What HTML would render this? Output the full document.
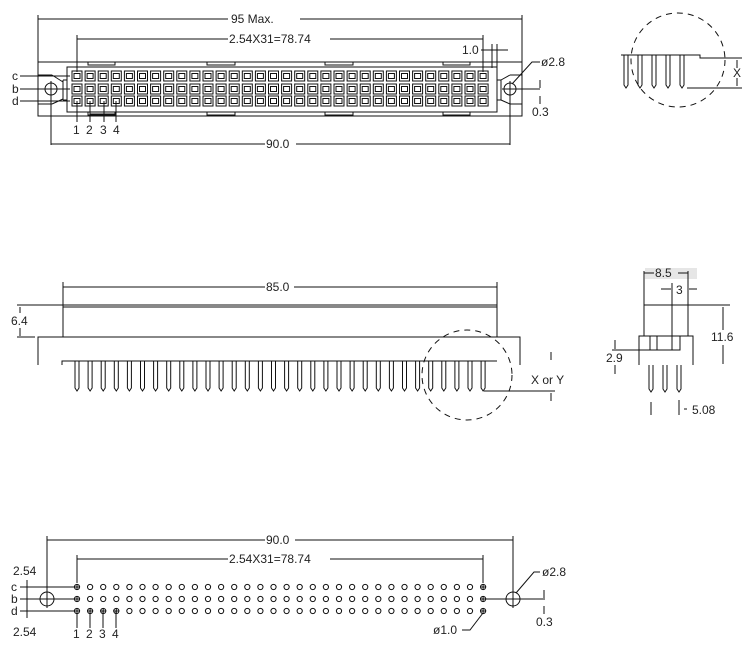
<!DOCTYPE html>
<html><head><style>
body{margin:0;background:#fff;}
svg{display:block;}
text{font-family:"Liberation Sans",sans-serif;font-size:12px;fill:#222;}
</style></head><body>
<svg width="756" height="650" viewBox="0 0 756 650" xmlns="http://www.w3.org/2000/svg" stroke="#111" stroke-width="1" fill="none">
<!-- ===== TOP VIEW ===== -->
<line x1="38" y1="15" x2="38" y2="62"/><line x1="522" y1="15" x2="522" y2="62"/>
<line x1="38" y1="19" x2="228" y2="19"/><line x1="300" y1="19" x2="522" y2="19"/>
<text x="231" y="23" stroke="none">95  Max.</text>
<line x1="77" y1="35" x2="77" y2="72"/><line x1="483" y1="35" x2="483" y2="72"/>
<line x1="77" y1="39" x2="228" y2="39"/><line x1="330" y1="39" x2="483" y2="39"/>
<text x="229" y="43" stroke="none">2.54X31=78.74</text>
<text x="462" y="54" stroke="none">1.0</text>
<line x1="481" y1="50" x2="508" y2="50"/><line x1="492" y1="44" x2="492" y2="68"/><line x1="497" y1="44" x2="497" y2="68"/>
<!-- outer -->
<rect x="38" y="62" width="484" height="54"/>
<rect x="67" y="67" width="430" height="45"/>
<line x1="63" y1="80" x2="63" y2="100"/><line x1="63" y1="80" x2="67" y2="80"/><line x1="63" y1="100" x2="67" y2="100"/>
<line x1="38" y1="75" x2="52" y2="75"/><line x1="52" y1="75" x2="63" y2="82"/>
<line x1="38" y1="104" x2="52" y2="104"/><line x1="52" y1="104" x2="63" y2="99"/>
<line x1="501" y1="80" x2="501" y2="100"/><line x1="497" y1="80" x2="501" y2="80"/><line x1="497" y1="100" x2="501" y2="100"/>
<line x1="501" y1="80" x2="510" y2="75"/><line x1="510" y1="75" x2="522" y2="75"/>
<line x1="501" y1="100" x2="510" y2="104"/><line x1="510" y1="104" x2="522" y2="104"/>
<g stroke-width="1">
<rect x="88" y="62" width="27" height="3"/><rect x="207" y="62" width="28" height="3"/><rect x="325" y="62" width="28" height="3"/><rect x="443" y="62" width="27" height="3"/>
<rect x="88" y="112" width="27" height="3"/><rect x="207" y="112" width="28" height="3"/><rect x="325" y="112" width="28" height="3"/><rect x="443" y="112" width="27" height="3"/>
</g>
<circle cx="51" cy="89" r="6"/><line x1="43" y1="89" x2="59" y2="89"/><line x1="51" y1="81" x2="51" y2="145"/>
<circle cx="510" cy="89" r="6"/><line x1="502" y1="89" x2="540" y2="89"/><line x1="510" y1="81" x2="510" y2="145"/>
<g id="cr">
<!-- contacts generated below -->
</g>
<g stroke-width="1">
<!-- row c y=76, b=89, a=101 -->
</g>
<line x1="20" y1="76" x2="70" y2="76"/><line x1="20" y1="89" x2="70" y2="89"/><line x1="20" y1="101" x2="70" y2="101"/>
<text x="12" y="80" stroke="none">c</text><text x="12" y="93" stroke="none">b</text><text x="12" y="105" stroke="none">d</text>
<line x1="77" y1="101" x2="77" y2="122"/><line x1="90" y1="101" x2="90" y2="122"/><line x1="104" y1="101" x2="104" y2="122"/><line x1="116" y1="101" x2="116" y2="122"/>
<line x1="90" y1="114" x2="116" y2="114"/>
<text x="73" y="134" stroke="none">1</text><text x="86" y="134" stroke="none">2</text><text x="100" y="134" stroke="none">3</text><text x="113" y="134" stroke="none">4</text>
<line x1="51" y1="144" x2="265" y2="144"/><line x1="296" y1="144" x2="510" y2="144"/>
<text x="266" y="148" stroke="none">90.0</text>
<polyline points="512,84 532,62 540,62"/><text x="541" y="66" stroke="none">ø2.8</text>
<line x1="540" y1="80" x2="540" y2="88"/><line x1="540" y1="96" x2="540" y2="104"/>
<text x="532" y="116" stroke="none">0.3</text>
<!-- detail circle top right -->
<circle cx="678" cy="60" r="47" stroke-dasharray="6,5"/>
<polyline points="621,55 700,55 700,58 742,58"/>
<line x1="687" y1="88" x2="742" y2="88"/>
<line x1="737" y1="60" x2="737" y2="68"/><line x1="737" y1="78" x2="737" y2="86"/>
<text x="733" y="77" stroke="none">X</text>
<!-- ===== SIDE VIEW ===== -->
<line x1="63" y1="282" x2="63" y2="305"/><line x1="497" y1="282" x2="497" y2="305"/>
<line x1="63" y1="287" x2="265" y2="287"/><line x1="294" y1="287" x2="497" y2="287"/>
<text x="266" y="291" stroke="none">85.0</text>
<rect x="63" y="305" width="434" height="32"/><line x1="63" y1="307" x2="497" y2="307"/>
<line x1="17" y1="305" x2="63" y2="305"/><line x1="17" y1="337" x2="35" y2="337"/>
<line x1="20" y1="307" x2="20" y2="313"/><line x1="20" y1="328" x2="20" y2="336"/>
<text x="11" y="325" stroke="none">6.4</text>
<polyline points="38,365 38,337 520,337 520,365"/>
<polyline points="62,365 62,361 497,361"/>
<circle cx="467" cy="375" r="45" stroke-dasharray="6,5"/>
<line x1="484" y1="391" x2="555" y2="391"/>
<line x1="551" y1="352" x2="551" y2="360"/><line x1="551" y1="393" x2="551" y2="401"/>
<text x="531" y="384" stroke="none">X  or  Y</text>
<!-- ===== END VIEW ===== -->
<rect x="645" y="268" width="52" height="11" fill="#e6e6e6" stroke="none"/>
<line x1="644" y1="271" x2="644" y2="305"/><line x1="688" y1="271" x2="688" y2="305"/>
<line x1="644" y1="273" x2="654" y2="273"/><line x1="678" y1="273" x2="688" y2="273"/>
<text x="655" y="277" stroke="none">8.5</text>
<line x1="672" y1="283" x2="672" y2="305"/>
<line x1="661" y1="289" x2="671" y2="289"/><line x1="689" y1="289" x2="697" y2="289"/>
<text x="676" y="294" stroke="none">3</text>
<line x1="688" y1="305" x2="730" y2="305"/>
<rect x="644" y="305" width="44" height="31"/><line x1="672" y1="305" x2="672" y2="350"/>
<polyline points="639,365 639,336 650,336 650,350 680,350 680,336 693,336 693,365"/>
<line x1="657" y1="336" x2="657" y2="350"/><line x1="672" y1="336" x2="680" y2="336"/>
<line x1="612" y1="350" x2="650" y2="350"/>
<line x1="615" y1="340" x2="615" y2="349"/><line x1="615" y1="365" x2="615" y2="374"/>
<text x="606" y="362" stroke="none">2.9</text>
<line x1="723" y1="307" x2="723" y2="330"/><line x1="723" y1="345" x2="723" y2="364"/>
<text x="711" y="341" stroke="none">11.6</text>
<line x1="651" y1="402" x2="651" y2="415"/><line x1="679" y1="400" x2="679" y2="415"/><line x1="684" y1="409" x2="687" y2="409"/>
<text x="692" y="414" stroke="none">5.08</text>
<!-- ===== BOTTOM VIEW ===== -->
<line x1="47" y1="536" x2="47" y2="592"/><line x1="513" y1="536" x2="513" y2="592"/>
<line x1="47" y1="540" x2="265" y2="540"/><line x1="295" y1="540" x2="513" y2="540"/>
<text x="266" y="544" stroke="none">90.0</text>
<line x1="77" y1="555" x2="77" y2="583"/><line x1="483" y1="555" x2="483" y2="583"/>
<line x1="77" y1="559" x2="228" y2="559"/><line x1="330" y1="559" x2="483" y2="559"/>
<text x="229" y="563" stroke="none">2.54X31=78.74</text>
<line x1="20" y1="587" x2="74" y2="587"/><line x1="20" y1="599" x2="74" y2="599"/><line x1="20" y1="611" x2="74" y2="611"/>
<line x1="27" y1="580" x2="27" y2="618"/>
<text x="13" y="575" stroke="none">2.54</text><text x="13" y="636" stroke="none">2.54</text>
<text x="11" y="591" stroke="none">c</text><text x="11" y="603" stroke="none">b</text><text x="11" y="615" stroke="none">d</text>
<circle cx="47" cy="599" r="7"/><line x1="37" y1="599" x2="57" y2="599"/><line x1="47" y1="590" x2="47" y2="608"/>
<circle cx="513" cy="599" r="7"/><line x1="483" y1="599" x2="545" y2="599"/><line x1="513" y1="590" x2="513" y2="608"/>
<polyline points="516,593 534,572 540,572"/><text x="542" y="576" stroke="none">ø2.8</text>
<line x1="544" y1="590" x2="544" y2="598"/><line x1="544" y1="606" x2="544" y2="614"/>
<text x="536" y="626" stroke="none">0.3</text>
<polyline points="483,613 470,630 462,630"/><text x="433" y="634" stroke="none">ø1.0</text>
<line x1="77" y1="611" x2="77" y2="628"/><line x1="90" y1="611" x2="90" y2="628"/><line x1="103" y1="611" x2="103" y2="628"/><line x1="116" y1="611" x2="116" y2="628"/>
<text x="73" y="638" stroke="none">1</text><text x="86" y="638" stroke="none">2</text><text x="99" y="638" stroke="none">3</text><text x="112" y="638" stroke="none">4</text>
<g id="dyn"></g>
</svg>
<script>
(function(){
var ns="http://www.w3.org/2000/svg",g=document.getElementById("dyn");
function el(t,a){var e=document.createElementNS(ns,t);for(var k in a)e.setAttribute(k,a[k]);g.appendChild(e);return e;}
for(var i=0;i<32;i++){
 var x=77+i*13.1;
 // top view contacts
 [76,89,101].forEach(function(y){
  el("rect",{x:x-5,y:y-5,width:10,height:10});
  el("rect",{x:x-3,y:y-2.5,width:6,height:5});
 });
 // side view pins
 el("path",{d:"M"+(x-2)+",361 V388 L"+x+",391 L"+(x+2)+",388 V361"});
 // bottom view holes
 [587,599,611].forEach(function(y){
  el("circle",{cx:x,cy:y,r:2.6});
  if(i==0||i==31||(y==611&&i<4)){el("line",{x1:x-3,y1:y,x2:x+3,y2:y});el("line",{x1:x,y1:y-3,x2:x,y2:y+3});}
 });
}
// detail pins top right
[626,640,654,668,682].forEach(function(x){el("path",{d:"M"+(x-2)+",55 V85 L"+x+",88 L"+(x+2)+",85 V55"});});
// end view pins
[651,665,679].forEach(function(x){el("path",{d:"M"+(x-2)+",365 V389 L"+x+",392 L"+(x+2)+",389 V365"});});
})();
</script>
</body></html>
